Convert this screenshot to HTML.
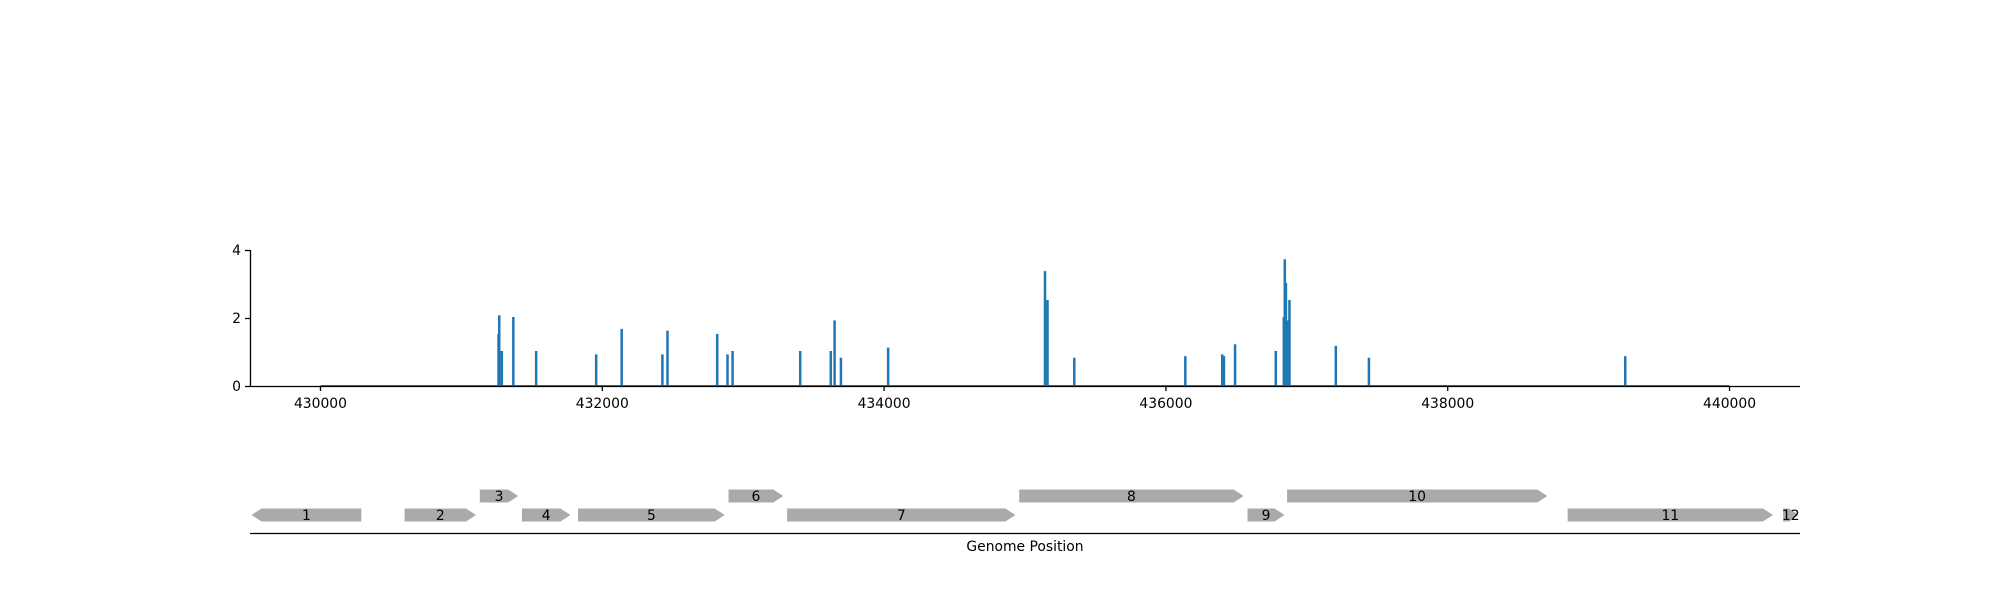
<!DOCTYPE html>
<html><head><meta charset="utf-8"><style>
html,body{margin:0;padding:0;background:#fff}
svg{display:block;font-family:"DejaVu Sans","Liberation Sans",sans-serif}
</style></head><body>
<svg id="chart" width="2000" height="600" viewBox="0 0 2000 600" xmlns="http://www.w3.org/2000/svg">
<rect width="2000" height="600" fill="#fff"/>
<g id="plot"></g>
<g id="genes"></g>
</svg>
<script>
const spikePos = [431262,431267,431285,431367,431529,431955,432136,432425,432461,432814,432887,432923,433403,433620,433647,433692,434027,435140,435158,435348,436136,436398,436410,436489,436778,436835,436842,436850,436858,436866,436875,437204,437439,439258];
const spikeVal = [1.5,2.05,1.0,2.0,1.0,0.9,1.65,0.9,1.6,1.5,0.9,1.0,1.0,1.0,1.9,0.8,1.1,3.35,2.5,0.8,0.85,0.9,0.85,1.2,1.0,2.0,3.7,3.0,1.1,1.9,2.5,1.15,0.8,0.85];
const xTicks = [430000,432000,434000,436000,438000,440000];
const yTicks = [0,2,4];
const geneLabels = ["1","2","3","4","5","6","7","8","9","10","11","12"];
const geneStart = [429511,430597,431131,431430,431828,432896,433312,434959,436579,436860,438851,440380];
const geneEnd = [430290,431104,431403,431774,432869,433285,434932,436552,436842,438706,440308,440489];
const geneStrand = [-1,1,1,1,1,1,1,1,1,1,1,1];
const geneRow = [0,0,1,0,0,1,0,1,0,1,0,0];

const NS="http://www.w3.org/2000/svg";
const X0=250,X1=1800,D0=429500,D1=440500;
const xs=v=>X0+(v-D0)/(D1-D0)*(X1-X0);
const Y0=386,YT=250;
const ys=v=>Y0-(v/4)*(Y0-YT);
function mk(tag,attrs,parent){const e=document.createElementNS(NS,tag);for(const k in attrs)e.setAttribute(k,attrs[k]);parent.appendChild(e);return e;}
const plot=document.getElementById('plot');
const genes=document.getElementById('genes');

let d=`M${xs(430000)},${ys(0)}`;
const order=spikePos.map((p,i)=>i).sort((a,b)=>spikePos[a]-spikePos[b]);
order.forEach(i=>{const x=xs(spikePos[i]);d+=` L${x},${ys(0)} L${x},${ys(spikeVal[i])} L${x+0.5},${ys(spikeVal[i])} L${x+0.5},${ys(0)}`;});
d+=` L${xs(440000)},${ys(0)}`;
const line=mk('path',{d:d,fill:'none',stroke:'#1f77b4','stroke-width':2,'stroke-linejoin':'miter'},plot);



const ya=mk('line',{x1:X0+0.5,y1:YT,x2:X0+0.5,y2:Y0+0.5,stroke:'#000','stroke-width':1.3},plot);


const xa=mk('line',{x1:X0,y1:Y0+0.5,x2:X1,y2:Y0+0.5,stroke:'#000','stroke-width':1.3},plot);


yTicks.forEach(t=>{
  mk('line',{x1:X0-5,y1:ys(t)+0.5,x2:X0,y2:ys(t)+0.5,stroke:'#000','stroke-width':1.3},plot);
  const tx=mk('text',{x:X0-9,y:ys(t)+5,'text-anchor':'end','font-size':'13.9px',fill:'#000'},plot);
  tx.textContent=t;
  
  
});
xTicks.forEach(t=>{
  mk('line',{x1:xs(t),y1:Y0,x2:xs(t),y2:Y0+5,stroke:'#000','stroke-width':1.3},plot);
  const tx=mk('text',{x:xs(t),y:Y0+22,'text-anchor':'middle','font-size':'13.9px',fill:'#000'},plot);
  tx.textContent=t;
  
  
});

const rowY=[515,496],H=13,AH=10;
geneLabels.forEach((lab,i)=>{
  const a=xs(geneStart[i]),b=xs(geneEnd[i]),yc=rowY[geneRow[i]];
  const ah=Math.min(AH,(b-a)*0.6);
  let pts;
  if(geneStrand[i]>0) pts=`${a},${yc-H/2} ${b-ah},${yc-H/2} ${b},${yc} ${b-ah},${yc+H/2} ${a},${yc+H/2}`;
  else pts=`${a+ah},${yc-H/2} ${b},${yc-H/2} ${b},${yc+H/2} ${a+ah},${yc+H/2} ${a},${yc}`;
  const p=mk('polygon',{points:pts,fill:'#aaaaaa'},genes);
  
  
  const t=mk('text',{x:(a+b)/2,y:yc+5,'text-anchor':'middle','font-size':'13.9px',fill:'#000'},genes);
  t.textContent=lab;
  
  
});
const gl=mk('line',{x1:X0,y1:533.5,x2:X1,y2:533.5,stroke:'#000','stroke-width':1.3},genes);


const gt=mk('text',{x:(X0+X1)/2,y:551,'text-anchor':'middle','font-size':'13.9px',fill:'#000'},genes);
gt.textContent='Genome Position';


</script>
</body></html>
